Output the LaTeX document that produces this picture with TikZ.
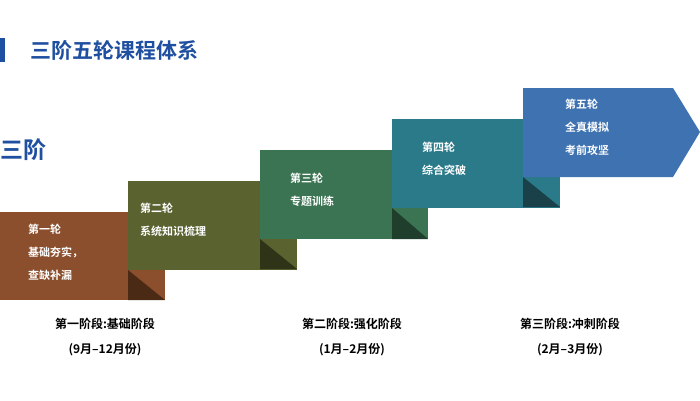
\documentclass[tikz,border=0pt]{standalone}
\usepackage{fontspec}
\setmainfont{Noto Sans CJK SC}[BoldFont={* Bold}]
\begin{document}
\begin{tikzpicture}[x=1pt,y=-1pt,
  lbl/.style={text=white,font=\bfseries\fontsize{11}{23}\selectfont,align=left,anchor=north west,inner sep=0},
  phasecap/.style={font=\bfseries\fontsize{12}{25}\selectfont,align=center,inner sep=0}]
\useasboundingbox[fill=white](0,0) rectangle (700,400);
\definecolor{tb}{HTML}{1F4FA0}
\definecolor{c1}{HTML}{8B4F2E}\definecolor{s1}{HTML}{4A2A14}
\definecolor{c2}{HTML}{5A6230}\definecolor{s2}{HTML}{2F3418}
\definecolor{c3}{HTML}{3A7452}\definecolor{s3}{HTML}{1F3F2C}
\definecolor{c4}{HTML}{2A7A8A}\definecolor{s4}{HTML}{1A414A}
\definecolor{c5}{HTML}{3F72B0}
\fill[tb] (0,38) rectangle (5,62);
\node[text=tb,font=\bfseries\fontsize{21}{21}\selectfont,anchor=west,inner sep=0] (title) at (30,50) {三阶五轮课程体系};
\node[text=tb,font=\bfseries\fontsize{23}{23}\selectfont,anchor=west,inner sep=0] (sj) at (0,150) {三阶};
% boxes
\fill[c1] (0,212) rectangle (165,300);
\fill[s1] (128,270) -- (165,300) -- (128,300) -- cycle;
\fill[c2] (128,181) rectangle (297,270);
\fill[s2] (260,239) -- (297,269) -- (260,269) -- cycle;
\fill[c3] (260,150) rectangle (428,239);
\fill[s3] (392,208) -- (428,239) -- (392,239) -- cycle;
\fill[c4] (392,119) rectangle (560,208);
\fill[s4] (523,177) -- (560,207) -- (523,207) -- cycle;
\fill[c5] (523,88) -- (673,88) -- (700,132) -- (673,177) -- (523,177) -- cycle;
\node[lbl] (b1) at (28,224) {第一轮\\基础夯实，\\查缺补漏};
\node[lbl] (b2) at (140,203) {第二轮\\系统知识梳理};
\node[lbl] (b3) at (290,173) {第三轮\\专题训练};
\node[lbl] (b4) at (422,142) {第四轮\\综合突破};
\node[lbl] (b5) at (565,99) {第五轮\\全真模拟\\考前攻坚};
\node[phasecap] (p1) at (105,337) {第一阶段:基础阶段\\(9月–12月份)};
\node[phasecap] (p2) at (352,337) {第二阶段:强化阶段\\(1月–2月份)};
\node[phasecap] (p3) at (570,337) {第三阶段:冲刺阶段\\(2月--3月份)};
\end{tikzpicture}
\end{document}
